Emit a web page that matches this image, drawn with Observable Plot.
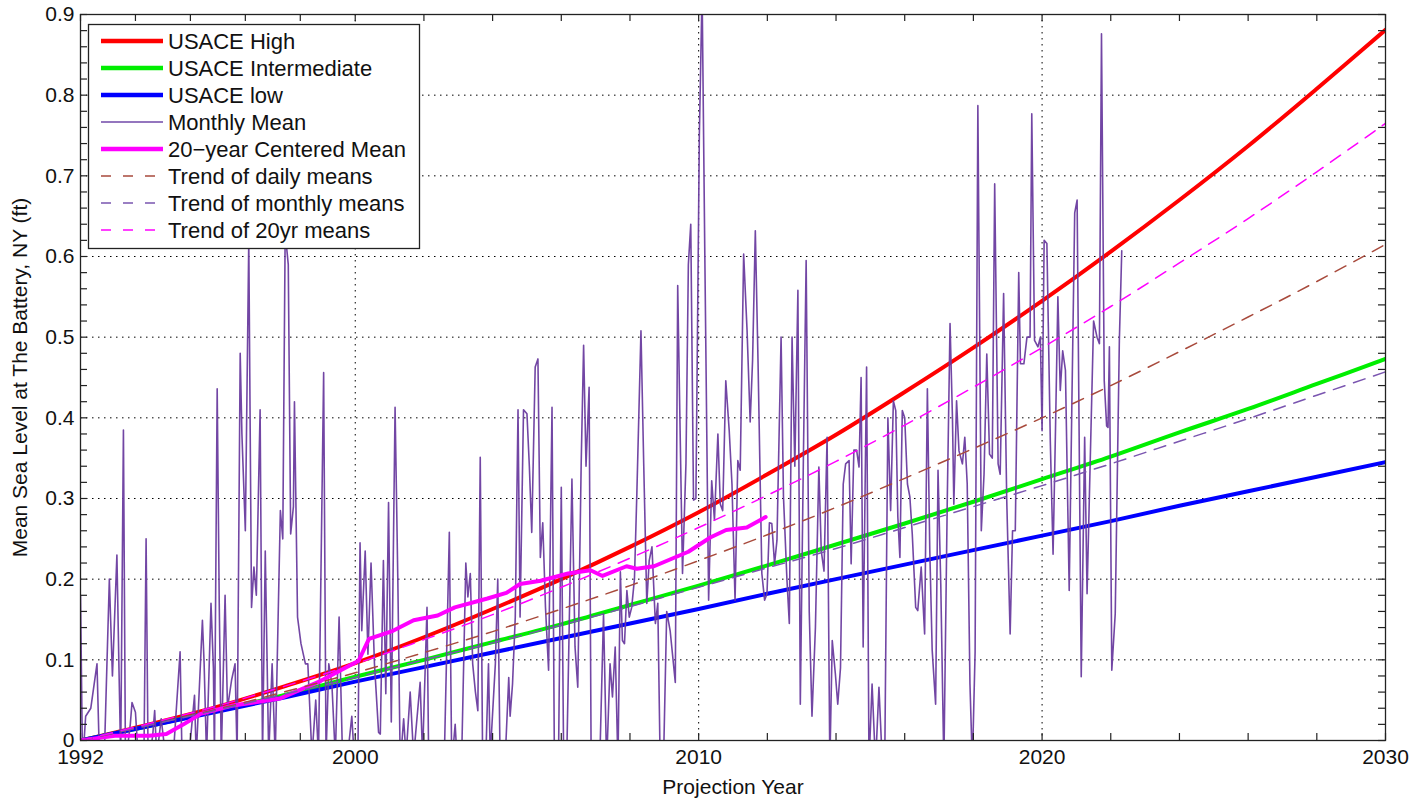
<!DOCTYPE html>
<html><head><meta charset="utf-8">
<script src="https://cdn.jsdelivr.net/npm/d3@7"></script>
<script src="https://cdn.jsdelivr.net/npm/@observablehq/plot@0.6"></script>
<style>
html,body{margin:0;padding:0;background:#fff;}
#chart{position:relative;width:1415px;height:799px;}
</style></head><body><div id="chart"></div>
<script>
// ---- data ----
const projYears = [1992,1994,1996,1998,2000,2002,2004,2006,2008,2010,2012,2014,2016,2018,2020,2022,2024,2026,2028,2030];
const usaceHigh  = [0,0.020,0.042,0.068,0.096,0.128,0.163,0.200,0.240,0.283,0.330,0.379,0.432,0.487,0.545,0.606,0.670,0.737,0.808,0.881];
const usaceInter = [0,0.018,0.037,0.057,0.079,0.100,0.122,0.144,0.168,0.192,0.217,0.243,0.269,0.296,0.324,0.352,0.382,0.411,0.442,0.473];
const usaceLow   = [0,0.018,0.036,0.054,0.073,0.091,0.109,0.127,0.145,0.163,0.182,0.200,0.218,0.236,0.254,0.272,0.291,0.309,0.327,0.345];
const trendDaily   = [0,0.019,0.039,0.061,0.084,0.109,0.135,0.163,0.192,0.223,0.255,0.289,0.325,0.362,0.400,0.440,0.482,0.525,0.569,0.615];
const trendMonthly = [0,0.019,0.038,0.058,0.078,0.100,0.121,0.143,0.166,0.190,0.214,0.238,0.264,0.290,0.316,0.343,0.371,0.399,0.428,0.457];
const trend20yr    = [0,0.021,0.043,0.068,0.095,0.125,0.156,0.190,0.226,0.264,0.304,0.346,0.391,0.438,0.487,0.538,0.592,0.647,0.705,0.765];

const meanYears  = [1992,1993,1994,1994.5,1995,1995.5,1996.4,1997.8,1999,2000.1,2000.4,2001.1,2001.7,2002.4,2002.9,2003.85,2004.4,2004.8,2005.4,2006.2,2006.85,2007.2,2007.9,2008.2,2008.7,2009.2,2009.7,2010.35,2010.8,2011.4,2011.95];
const meanValues = [0,0.006,0.006,0.008,0.02,0.033,0.043,0.052,0.074,0.099,0.126,0.136,0.149,0.155,0.165,0.176,0.183,0.194,0.198,0.207,0.211,0.204,0.216,0.213,0.216,0.225,0.234,0.252,0.261,0.264,0.277];

const monthlyYears = [
1992.00,1992.06,1992.15,1992.30,1992.48,1992.55,1992.70,1992.84,1992.93,1993.06,1993.12,1993.17,1993.25,1993.31,1993.45,1993.50,1993.60,1993.68,1993.85,1993.91,
1993.97,1994.10,1994.16,1994.22,1994.35,1994.45,1994.70,1994.90,1994.96,1995.20,1995.32,1995.37,1995.55,1995.60,1995.67,1995.80,1995.87,1995.90,1995.98,1996.04,
1996.10,1996.21,1996.28,1996.40,1996.50,1996.56,1996.65,1996.70,1996.80,1996.90,1996.98,1997.05,1997.12,1997.23,1997.30,1997.38,1997.48,1997.58,1997.67,1997.82,
1997.89,1997.96,1998.05,1998.12,1998.20,1998.23,1998.32,1998.42,1998.55,1998.62,1998.74,1998.85,1998.93,1999.08,1999.15,1999.23,1999.32,1999.42,1999.53,1999.63,
1999.80,1999.90,1999.97,2000.08,2000.14,2000.19,2000.29,2000.37,2000.46,2000.56,2000.68,2000.73,2000.82,2000.89,2000.97,2001.05,2001.16,2001.24,2001.31,2001.41,
2001.48,2001.60,2001.70,2001.89,2001.96,2002.09,2002.14,2002.35,2002.60,2002.74,2002.81,2002.91,2002.96,2003.10,2003.22,2003.28,2003.35,2003.42,2003.50,2003.57,
2003.64,2003.71,2003.81,2003.88,2003.93,2004.08,2004.15,2004.22,2004.37,2004.47,2004.51,2004.58,2004.66,2004.74,2004.80,2004.90,2005.00,2005.07,2005.14,2005.24,
2005.32,2005.39,2005.46,2005.54,2005.63,2005.73,2005.80,2005.92,2006.00,2006.07,2006.16,2006.31,2006.40,2006.48,2006.58,2006.65,2006.72,2006.81,2006.87,2007.00,
2007.13,2007.23,2007.32,2007.42,2007.49,2007.57,2007.65,2007.72,2007.78,2007.84,2007.91,2007.98,2008.05,2008.13,2008.20,2008.32,2008.40,2008.49,2008.56,2008.64,
2008.74,2008.81,2008.88,2008.98,2009.07,2009.17,2009.32,2009.39,2009.46,2009.53,2009.63,2009.70,2009.77,2009.85,2009.92,2010.02,2010.10,2010.18,2010.29,2010.38,
2010.46,2010.56,2010.63,2010.70,2010.79,2010.89,2010.97,2011.06,2011.14,2011.21,2011.31,2011.41,2011.50,2011.57,2011.65,2011.73,2011.84,2011.92,2011.99,2012.06,
2012.13,2012.21,2012.28,2012.40,2012.47,2012.57,2012.64,2012.72,2012.80,2012.89,2012.96,2013.05,2013.13,2013.22,2013.30,2013.40,2013.50,2013.57,2013.65,2013.74,
2013.82,2013.89,2013.98,2014.05,2014.13,2014.21,2014.28,2014.38,2014.44,2014.52,2014.60,2014.67,2014.73,2014.79,2014.89,2014.96,2015.05,2015.15,2015.25,2015.35,
2015.42,2015.51,2015.59,2015.67,2015.74,2015.80,2015.86,2015.93,2016.00,2016.08,2016.15,2016.22,2016.32,2016.38,2016.48,2016.58,2016.66,2016.73,2016.80,2016.90,
2016.97,2017.05,2017.14,2017.24,2017.32,2017.39,2017.43,2017.51,2017.58,2017.68,2017.75,2017.82,2017.90,2017.97,2018.05,2018.13,2018.23,2018.31,2018.39,2018.47,
2018.55,2018.62,2018.72,2018.78,2018.88,2018.97,2019.07,2019.14,2019.22,2019.32,2019.37,2019.47,2019.56,2019.65,2019.70,2019.78,2019.88,2019.95,2020.00,2020.06,
2020.14,2020.24,2020.32,2020.39,2020.46,2020.53,2020.60,2020.68,2020.79,2020.87,2020.95,2021.02,2021.14,2021.24,2021.31,2021.40,2021.50,2021.60,2021.67,2021.73,
2021.81,2021.88,2021.92,2021.96,2022.03,2022.13,2022.25,2022.32];
const monthlyValues = [
0.18,-0.03,0.03,0.04,0.095,-0.02,-0.01,0.20,0.08,0.23,0.09,-0.02,0.385,-0.03,0.02,0.047,0.035,-0.02,-0.01,0.25,
-0.03,0.005,0.037,-0.02,0.027,-0.01,-0.02,0.11,-0.03,0.0,0.056,-0.02,0.149,0.095,-0.02,0.17,0.09,-0.02,0.436,0.17,
-0.02,0.18,0.04,0.075,0.095,-0.02,0.48,0.38,0.26,0.62,0.165,0.215,0.18,0.41,-0.02,0.235,-0.02,0.095,-0.02,0.285,
0.25,0.63,0.59,0.256,0.29,0.42,0.153,0.12,0.095,0.095,-0.02,0.05,-0.02,0.456,-0.02,0.095,0.07,-0.02,0.153,-0.02,
-0.01,0.03,-0.02,-0.01,0.245,0.136,0.235,0.107,0.22,0.095,0.01,0.008,0.223,0.058,0.295,0.023,0.413,0.2,-0.03,0.027,
-0.02,0.06,-0.02,0.072,-0.02,0.165,-0.03,-0.02,-0.01,0.258,-0.03,0.02,-0.02,-0.02,0.22,0.178,0.207,0.095,0.06,0.037,
0.351,-0.03,-0.01,0.095,-0.02,0.095,0.2,-0.03,-0.02,0.078,0.03,0.07,0.153,0.41,0.153,0.41,0.405,0.34,0.258,0.463,
0.473,0.227,0.27,0.165,0.087,0.413,-0.03,-0.02,0.314,-0.03,-0.02,0.324,0.116,0.066,0.345,0.49,0.34,0.438,-0.03,-0.02,
-0.01,0.157,-0.03,0.095,0.054,0.116,-0.03,0.209,0.124,0.12,0.186,0.153,0.165,0.2,0.306,0.508,0.343,0.17,0.223,0.24,
0.145,0.17,-0.03,-0.02,0.16,0.136,0.072,0.564,0.384,0.207,0.343,0.59,0.64,0.298,0.30,0.75,0.93,0.60,0.174,0.322,
0.273,0.38,0.293,0.285,0.446,0.384,0.318,0.174,0.347,0.335,0.603,0.508,0.395,0.471,0.632,0.467,0.207,0.174,0.182,0.27,
0.269,0.219,0.248,0.50,0.302,0.20,0.145,0.50,0.34,0.558,0.045,0.351,0.595,0.16,0.03,0.14,0.339,0.235,0.21,0.376,
-0.03,0.124,0.083,0.045,0.09,0.318,0.343,0.347,0.219,0.36,0.36,0.339,0.45,0.116,0.463,-0.03,0.07,-0.03,0.066,-0.03,
-0.02,0.40,0.285,0.421,0.409,0.277,0.227,0.409,0.40,0.318,0.302,0.256,0.165,0.161,0.215,0.132,0.436,0.236,0.112,0.045,
0.335,0.194,-0.03,0.30,0.517,0.401,0.293,0.421,0.359,0.343,0.376,0.318,0.07,-0.03,0.11,0.787,0.26,0.33,0.479,0.355,
0.35,0.69,0.343,0.33,0.554,0.30,0.132,0.26,0.26,0.58,0.467,0.467,0.50,0.50,0.777,0.496,0.488,0.50,0.384,0.62,
0.616,0.37,0.231,0.384,0.55,0.434,0.483,0.459,0.186,0.425,0.654,0.67,0.079,0.376,0.182,0.343,0.52,0.50,0.492,0.876,
0.446,0.39,0.388,0.488,0.087,0.157,0.496,0.607];

const xTickLabels = [1992,2000,2010,2020,2030];
const xMinorTicks = [1992,1993.6,1995.2,1996.8,1998.4,2000,2002,2004,2006,2008,2010,2012,2014,2016,2018,2020,2022,2024,2026,2028,2030];
const xGrid = [2000,2010,2020];
const yTickLabels = [0,0.1,0.2,0.3,0.4,0.5,0.6,0.7,0.8,0.9];
const yMinorTicks = d3.range(0,46).map(i=>i*0.02);
const yGrid = [0.1,0.2,0.3,0.4,0.5,0.6,0.7,0.8];

const legendNames  = ["USACE High","USACE Intermediate","USACE low","Monthly Mean","20\u2212year Centered Mean","Trend of daily means","Trend of monthly means","Trend of 20yr means"];
const legendColors = ["#ff0000","#00ee00","#0000ff","#7048a8","#ff00ff","#a84a3c","#7a55b0","#ff00ff"];
const legendWidths = [4.5,4.5,4.5,1.5,4.5,1.5,1.5,1.5];
const legendDashed = [false,false,false,false,false,true,true,true];

// ---- layout ----
const W=1415,H=799,mL=80,mR=30,mT=14,mB=59;
const innerW=W-mL-mR, innerH=H-mT-mB;
const rows=(xs,ys)=>xs.map((x,i)=>({x,y:ys[i]}));
const dash="12,9";

const plot = Plot.plot({
  width:W,height:H,marginLeft:mL,marginRight:mR,marginTop:mT,marginBottom:mB,
  style:{fontFamily:"'Liberation Sans', Arial, sans-serif",fontSize:"21px",color:"#111",background:"white",overflow:"visible"},
  x:{domain:[1992,2030]},
  y:{domain:[0,0.9]},
  marks:[
    Plot.gridY(yGrid,{stroke:"#000",strokeOpacity:1,strokeWidth:1,strokeDasharray:"1.5,4.5"}),
    Plot.gridX(xGrid,{stroke:"#000",strokeOpacity:1,strokeWidth:1,strokeDasharray:"1.5,4.5"}),
    Plot.line(rows(projYears,usaceHigh),{x:"x",y:"y",stroke:legendColors[0],strokeWidth:4,clip:true,curve:"catmull-rom"}),
    Plot.line(rows(projYears,usaceInter),{x:"x",y:"y",stroke:legendColors[1],strokeWidth:4,clip:true,curve:"catmull-rom"}),
    Plot.line(rows(projYears,usaceLow),{x:"x",y:"y",stroke:legendColors[2],strokeWidth:4,clip:true}),
    Plot.line(rows(monthlyYears,monthlyValues),{x:"x",y:"y",stroke:"#6a3c9f",strokeWidth:1.6,clip:true,strokeOpacity:0.95}),
    Plot.line(rows(meanYears,meanValues),{x:"x",y:"y",stroke:legendColors[4],strokeWidth:4,clip:true}),
    Plot.line(rows(projYears,trendDaily),{x:"x",y:"y",stroke:legendColors[5],strokeWidth:1.5,strokeDasharray:dash,clip:true,curve:"catmull-rom"}),
    Plot.line(rows(projYears,trendMonthly),{x:"x",y:"y",stroke:legendColors[6],strokeWidth:1.5,strokeDasharray:dash,clip:true,curve:"catmull-rom"}),
    Plot.line(rows(projYears,trend20yr),{x:"x",y:"y",stroke:legendColors[7],strokeWidth:1.5,strokeDasharray:dash,clip:true,curve:"catmull-rom"}),
    Plot.frame({stroke:"#222",strokeWidth:1.3}),
    Plot.tickX(xMinorTicks,{x:d=>d,insetTop:innerH-7,stroke:"#222",strokeWidth:1.2}),
    Plot.tickX(xMinorTicks,{x:d=>d,insetBottom:innerH-7,stroke:"#222",strokeWidth:1.2}),
    Plot.tickY(yMinorTicks,{y:d=>d,insetRight:innerW-7,stroke:"#222",strokeWidth:1.2}),
    Plot.tickY(yMinorTicks,{y:d=>d,insetLeft:innerW-7,stroke:"#222",strokeWidth:1.2}),
    Plot.axisX(xTickLabels,{tickSize:0,tickPadding:9,tickFormat:d=>String(d),label:"Projection Year",labelAnchor:"center",labelOffset:53,labelArrow:"none"}),
    Plot.axisY(yTickLabels,{tickSize:0,tickPadding:6,tickFormat:d=>d===0?"0":d.toFixed(1),label:"Mean Sea Level at The Battery, NY (ft)",labelAnchor:"center",labelOffset:68,labelArrow:"none"})
  ]
});
document.getElementById("chart").appendChild(plot);

// ---- legend (inside the axes, upper left) ----
const svg=d3.select(plot);
const lg=svg.append("g").attr("font-family","'Liberation Sans', Arial, sans-serif").attr("font-size",22).attr("text-anchor","start");
lg.append("rect").attr("x",88.5).attr("y",24.5).attr("width",331).attr("height",224).attr("fill","white").attr("stroke","#222").attr("stroke-width",1.3);
legendNames.forEach((name,i)=>{
  const y=41+27*i;
  lg.append("line").attr("x1",101).attr("x2",163).attr("y1",y).attr("y2",y)
    .attr("stroke",legendColors[i]).attr("stroke-width",legendWidths[i])
    .attr("stroke-dasharray",legendDashed[i]?"10,12":null);
  lg.append("text").attr("x",168).attr("y",y).attr("dy","0.35em").attr("text-anchor","start").attr("fill","#111").text(name);
});
</script></body></html>
